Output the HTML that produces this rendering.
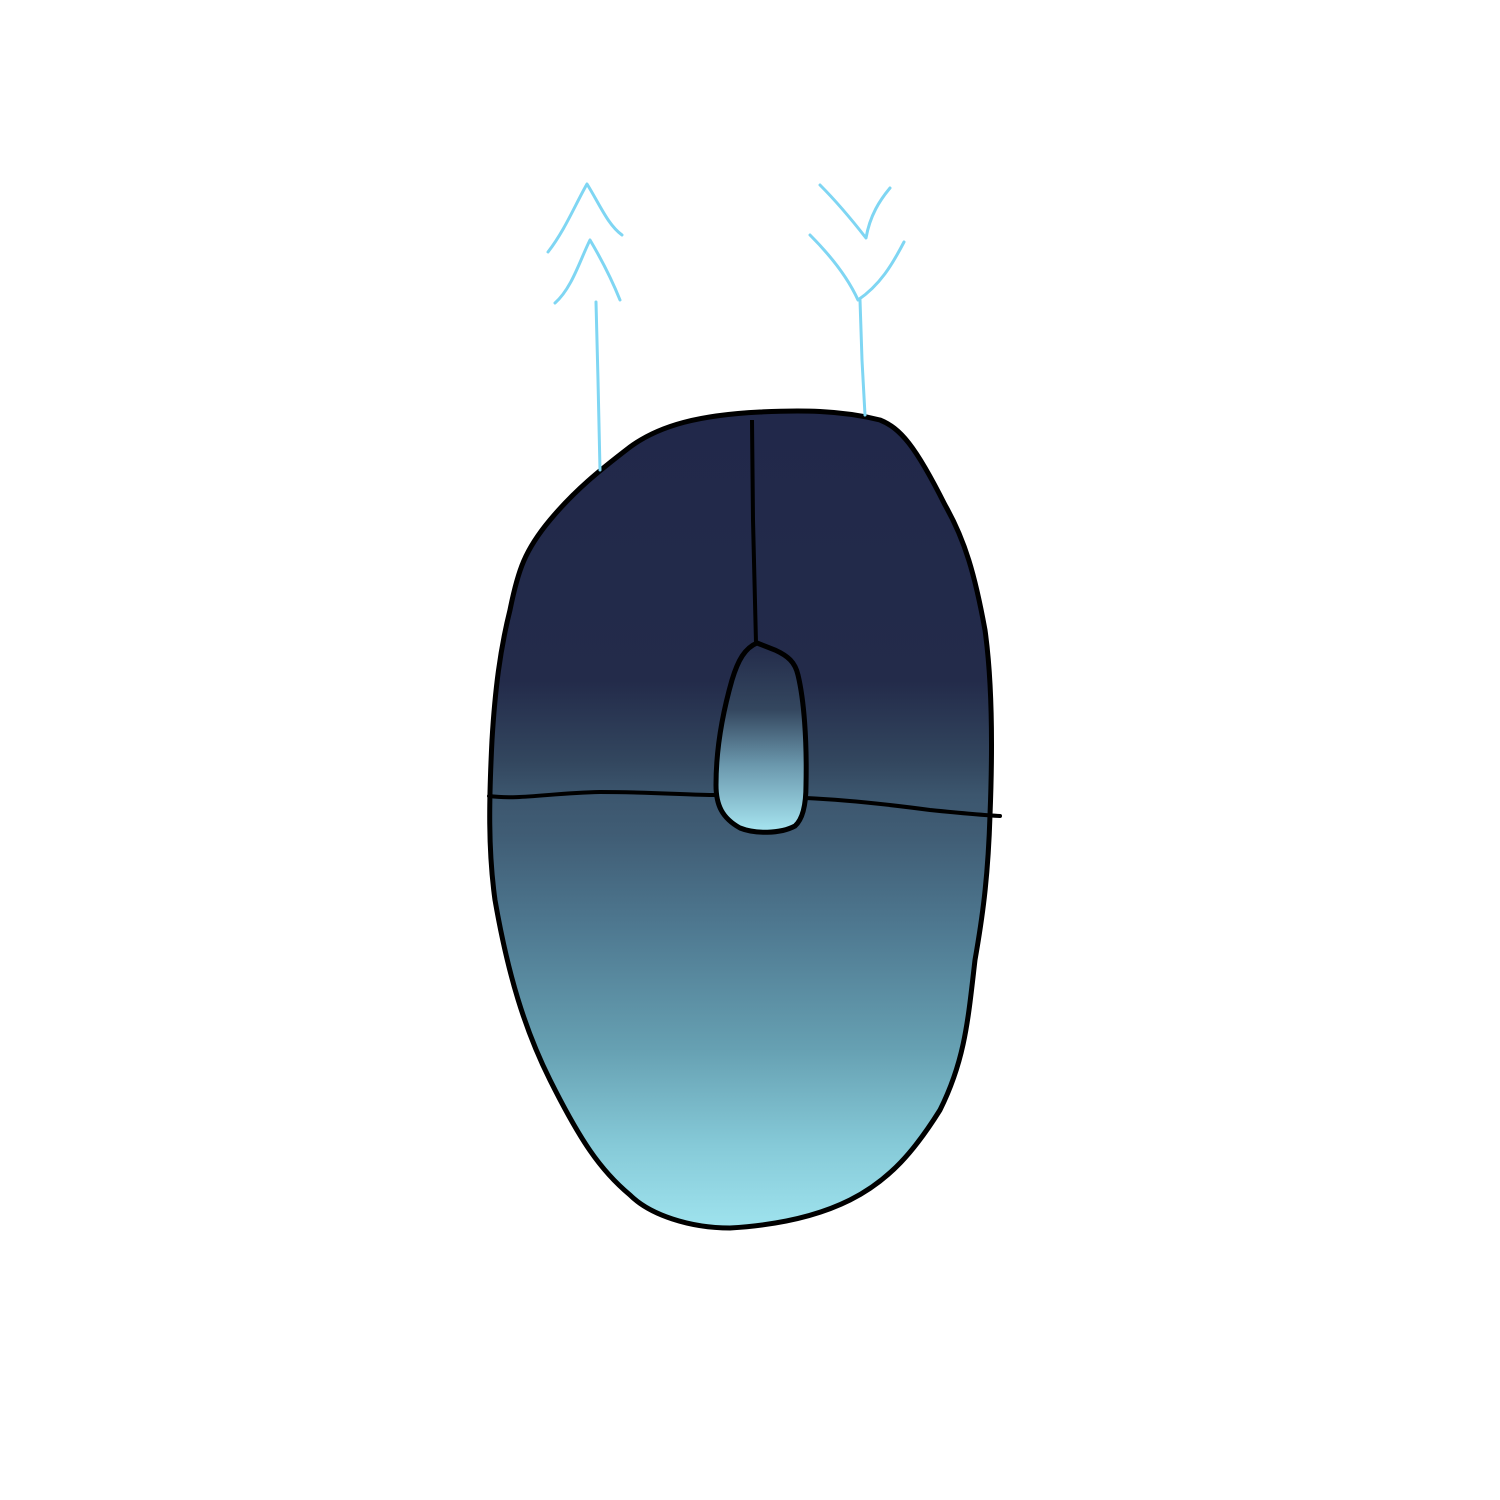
<!DOCTYPE html>
<html><head><meta charset="utf-8"><style>
html,body{margin:0;padding:0;background:#fff;width:1500px;height:1500px;overflow:hidden}
</style></head><body>
<svg width="1500" height="1500" viewBox="0 0 1500 1500">
<defs>
<linearGradient id="body" x1="0" y1="412" x2="0" y2="1228" gradientUnits="userSpaceOnUse">
<stop offset="0" stop-color="#21284a"/>
<stop offset="0.33" stop-color="#232b4a"/>
<stop offset="0.43" stop-color="#33475f"/>
<stop offset="0.47" stop-color="#3c566e"/>
<stop offset="0.52" stop-color="#405d75"/>
<stop offset="0.63" stop-color="#4e7890"/>
<stop offset="0.78" stop-color="#66a0b2"/>
<stop offset="0.9" stop-color="#86cad8"/>
<stop offset="1" stop-color="#9fe3ee"/>
</linearGradient>
<linearGradient id="wheel" x1="0" y1="645" x2="0" y2="830" gradientUnits="userSpaceOnUse">
<stop offset="0" stop-color="#232b4a"/>
<stop offset="0.35" stop-color="#34475f"/>
<stop offset="0.65" stop-color="#6b98ad"/>
<stop offset="1" stop-color="#a5e3ef"/>
</linearGradient>
</defs>
<path fill="url(#body)" stroke="#000" stroke-width="5" stroke-linejoin="round"
d="M760,412 C800,410 840,410 880,420 C900,428 915,445 945,505 C965,540 975,575 985,630 C992,680 993,740 990,815 C988,880 982,920 975,960 C968,1020 965,1060 940,1110 C915,1150 890,1180 850,1200 C820,1215 780,1225 730,1228 C690,1228 650,1215 630,1195 C600,1170 580,1140 550,1080 C525,1030 508,975 495,900 C488,850 489,800 492,740 C495,690 500,650 510,610 C518,570 525,550 550,520 C575,490 600,470 630,447 C660,425 700,415 760,412 Z"/>
<path fill="url(#wheel)" stroke="#000" stroke-width="5"
d="M757,643 C745,648 738,660 732,680 C722,715 716,750 716,785 C716,805 722,818 740,828 C755,834 780,834 795,826 C804,818 806,800 806,785 C807,740 804,700 798,675 C795,662 788,656 775,650 Z"/>
<path fill="none" stroke="#000" stroke-width="4" d="M752,420 L753,520 L756,643"/>
<path fill="none" stroke="#000" stroke-width="4" stroke-linecap="round" d="M489,796 C520,800 550,793 600,792 C650,792 690,795 716,795"/>
<path fill="none" stroke="#000" stroke-width="4" stroke-linecap="round" d="M806,798 C850,800 900,806 930,810 C960,813 980,815 1000,816"/>
<g fill="none" stroke="#7fd6f3" stroke-width="3" stroke-linecap="round" stroke-linejoin="round">
<path d="M596,302 L598,380 L600,470"/>
<path d="M548,252 C565,230 575,205 587,184 C600,205 608,225 622,235"/>
<path d="M555,303 C572,288 580,260 590,240 C603,262 612,280 620,300"/>
</g>
<g fill="none" stroke="#7fd6f3" stroke-width="3" stroke-linecap="round" stroke-linejoin="round">
<path d="M860,300 L862,360 L865,415"/>
<path d="M820,185 C835,200 852,220 866,238 C870,215 880,200 890,188"/>
<path d="M810,235 C830,255 848,278 858,300 C880,285 892,265 904,242"/>
</g>
</svg>
</body></html>
